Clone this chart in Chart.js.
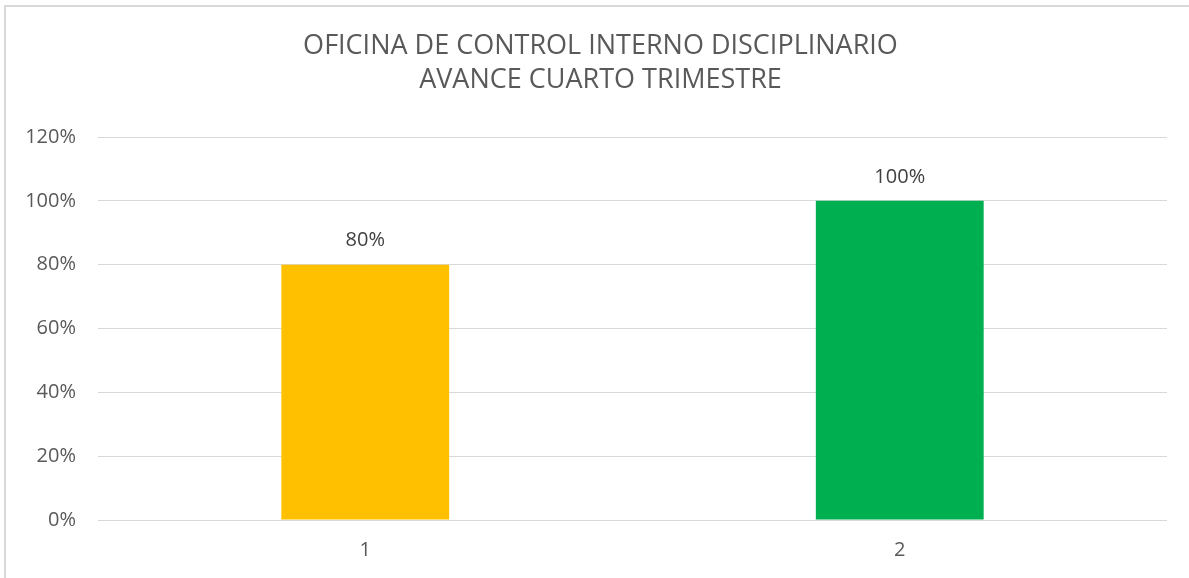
<!DOCTYPE html>
<html>
<head>
<meta charset="utf-8">
<script src="https://cdn.jsdelivr.net/npm/chart.js@4/dist/chart.umd.min.js"></script>
<style>
  html, body { margin: 0; padding: 0; background: #fff; overflow: hidden; }
  #frame { position: absolute; left: 4px; top: 5px; width: 1300px; height: 700px;
           border-left: 2px solid #d9d9d9; border-top: 2px solid #d9d9d9; }
  #chart { position: absolute; left: 0; top: 0; }
</style>
</head>
<body>
<div id="frame"></div>
<canvas id="chart" width="1189" height="578"></canvas>
<script>
// datos
const categories = ['1', '2'];
const avance = [0.8, 1.0];
const barColors = ['#FFC000', '#00B050'];
const titleLines = ['OFICINA DE CONTROL INTERNO DISCIPLINARIO', 'AVANCE CUARTO TRIMESTRE'];

const FONT = '"Open Sans", sans-serif';
const pct = v => Math.round(v * 100) + '%';

// etiquetas encima de las barras
const barLabels = {
  id: 'barLabels',
  afterDatasetsDraw(chart) {
    const c = chart.ctx;
    const meta = chart.getDatasetMeta(0);
    c.save();
    c.font = '20px ' + FONT;
    c.fillStyle = '#404040';
    c.textAlign = 'center';
    c.textBaseline = 'middle';
    meta.data.forEach((bar, i) => {
      c.fillText(pct(avance[i]), bar.x, bar.y - 24);
    });
    c.restore();
  }
};

new Chart(document.getElementById('chart'), {
  type: 'bar',
  data: {
    labels: categories,
    datasets: [{
      data: avance,
      backgroundColor: barColors,
      categoryPercentage: 1,
      barPercentage: 0.314
    }]
  },
  options: {
    responsive: false,
    animation: false,
    layout: { padding: { top: 0, right: 0, bottom: 16, left: 12 } },
    plugins: {
      legend: { display: false },
      tooltip: { enabled: false },
      title: {
        display: true,
        text: titleLines,
        color: '#595959',
        font: { family: FONT, size: 27, weight: 'normal', lineHeight: 1.26 },
        padding: { top: 29, bottom: 40 }
      }
    },
    scales: {
      x: {
        afterFit: s => { s.height = 42; },
        grid: { display: false, drawTicks: false },
        border: { display: false },
        ticks: { color: '#595959', font: { family: FONT, size: 20 }, padding: 18 }
      },
      y: {
        min: 0,
        max: 1.2,
        afterFit: s => { s.width = 86; },
        grid: { color: '#d9d9d9', lineWidth: 1, drawTicks: false },
        border: { display: false },
        ticks: {
          stepSize: 0.2,
          color: '#595959',
          font: { family: FONT, size: 20 },
          padding: 22,
          callback: v => pct(v)
        }
      },
      // margen derecho vacío
      yRight: {
        position: 'right',
        afterFit: s => { s.width = 22; },
        grid: { display: false, drawTicks: false },
        border: { display: false },
        ticks: { display: false }
      }
    }
  },
  plugins: [barLabels]
});
</script>
</body>
</html>
